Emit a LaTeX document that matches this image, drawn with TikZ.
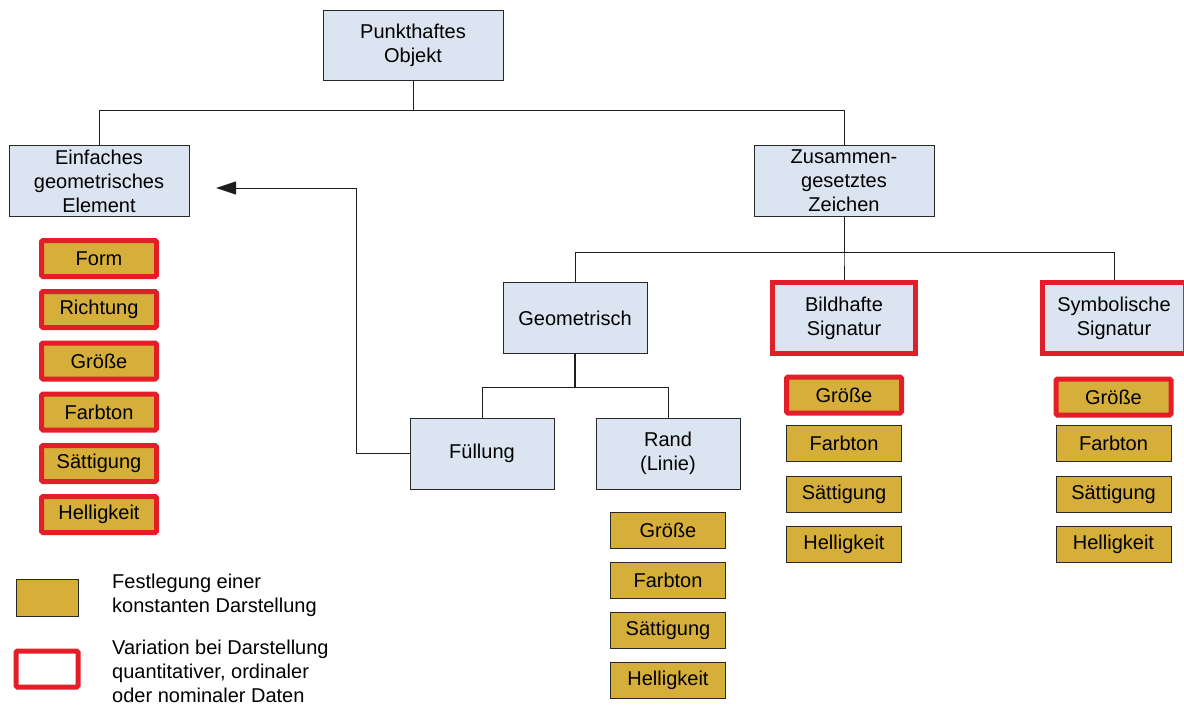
\documentclass[tikz,border=0pt]{standalone}
\usepackage{fontspec}
\setmainfont{Liberation Sans}
\usetikzlibrary{arrows.meta}
\definecolor{lightblue}{RGB}{219,229,241}
\definecolor{gold}{RGB}{214,174,58}
\definecolor{varred}{RGB}{226,30,40}
\definecolor{boxline}{RGB}{40,40,40}
\definecolor{wire}{RGB}{30,30,30}
\tikzset{
  bluebox/.style={draw=boxline, fill=lightblue, line width=1pt, align=center,
    inner sep=0pt, minimum width=144pt, minimum height=71pt},
  widebox/.style={bluebox, minimum width=180pt},
  redblue/.style={bluebox, draw=varred, line width=5pt, minimum width=143pt},
  goldbox/.style={draw=boxline, fill=gold, line width=1pt, inner sep=0pt,
    minimum width=115pt, minimum height=36pt},
  redgold/.style={goldbox, draw=varred, line width=5pt, rounded corners=1.5pt},
  wireline/.style={draw=wire, line width=1pt},
  legendtext/.style={anchor=west, align=left, inner sep=0pt}
}
\begin{document}
\begin{tikzpicture}[x=1pt, y=-1pt, font=\fontsize{20}{24}\selectfont]
\useasboundingbox (0,0) rectangle (1184,707);

% hierarchy
\node[widebox, minimum height=70pt] (obj) at (413,45) {Punkthaftes\\Objekt};
\node[widebox] (einf) at (99,181) {Einfaches\\geometrisches\\Element};
\node[widebox] (zus) at (844,181) {Zusammen-\\gesetztes\\Zeichen};
\node[bluebox] (geo) at (575,318) {Geometrisch};
\node[redblue] (bild) at (844,318) {Bildhafte\\Signatur};
\node[redblue] (symb) at (1114,318) {Symbolische\\Signatur};
\node[bluebox] (fuel) at (482,453.5) {Füllung};
\node[bluebox] (rand) at (668,453.5) {Rand\\(Linie)};

% connectors
\draw[wireline] (obj.south) -- ++(0,30) -| (einf.north);
\draw[wireline] (obj.south) -- ++(0,30) -| (zus.north);
\draw[wireline] (zus.south) -- ++(0,35) -| (geo.north);
\draw[wireline] (zus.south) -- ++(0,35) -| (bild.north);
\draw[wireline] (zus.south) -- ++(0,35) -| (symb.north);
\coordinate (gsplit) at (575,387);
\draw[draw=wire, line width=2pt] (geo.south) -- (gsplit);
\draw[wireline] (gsplit) -| (fuel.north);
\draw[wireline] (gsplit) -| (rand.north);
\coordinate (tip) at (216,188);
\draw[wireline, -{Triangle[length=20pt,width=13pt]}] (fuel.west) -- ++(-53,0) |- (tip);

% attributes of the simple element
\node[redgold] (e1) at (99,258.5) {Form};
\node[redgold] (e2) at (99,309.5) {Richtung};
\node[redgold] (e3) at (99,361) {Größe};
\node[redgold] (e4) at (99,412) {Farbton};
\node[redgold] (e5) at (99,463.5) {Sättigung};
\node[redgold] (e6) at (99,514.5) {Helligkeit};

% attributes of the border line
\node[goldbox] (r1) at (668,530.5) {Größe};
\node[goldbox] (r2) at (668,580) {Farbton};
\node[goldbox] (r3) at (668,630) {Sättigung};
\node[goldbox] (r4) at (668,680) {Helligkeit};

% attributes of the pictorial signature
\node[redgold] (b1) at (844,395) {Größe};
\node[goldbox] (b2) at (844,443.5) {Farbton};
\node[goldbox] (b3) at (844,494) {Sättigung};
\node[goldbox] (b4) at (844,544) {Helligkeit};

% attributes of the symbolic signature
\node[redgold] (s1) at (1113.5,397) {Größe};
\node[goldbox] (s2) at (1113.5,443.5) {Farbton};
\node[goldbox] (s3) at (1113.5,494) {Sättigung};
\node[goldbox] (s4) at (1113.5,544) {Helligkeit};

% legend
\node[goldbox, minimum width=62pt, minimum height=37pt] (lg1) at (47,598) {};
\node[legendtext] (lt1) at (112,595) {Festlegung einer\\konstanten Darstellung};
\node[draw=varred, line width=5pt, fill=white, rounded corners=1.5pt,
      minimum width=62pt, minimum height=36pt, inner sep=0pt] (lg2) at (47,669) {};
\node[legendtext] (lt2) at (112,671) {Variation bei Darstellung\\quantitativer, ordinaler\\oder nominaler Daten};
\end{tikzpicture}
\end{document}
